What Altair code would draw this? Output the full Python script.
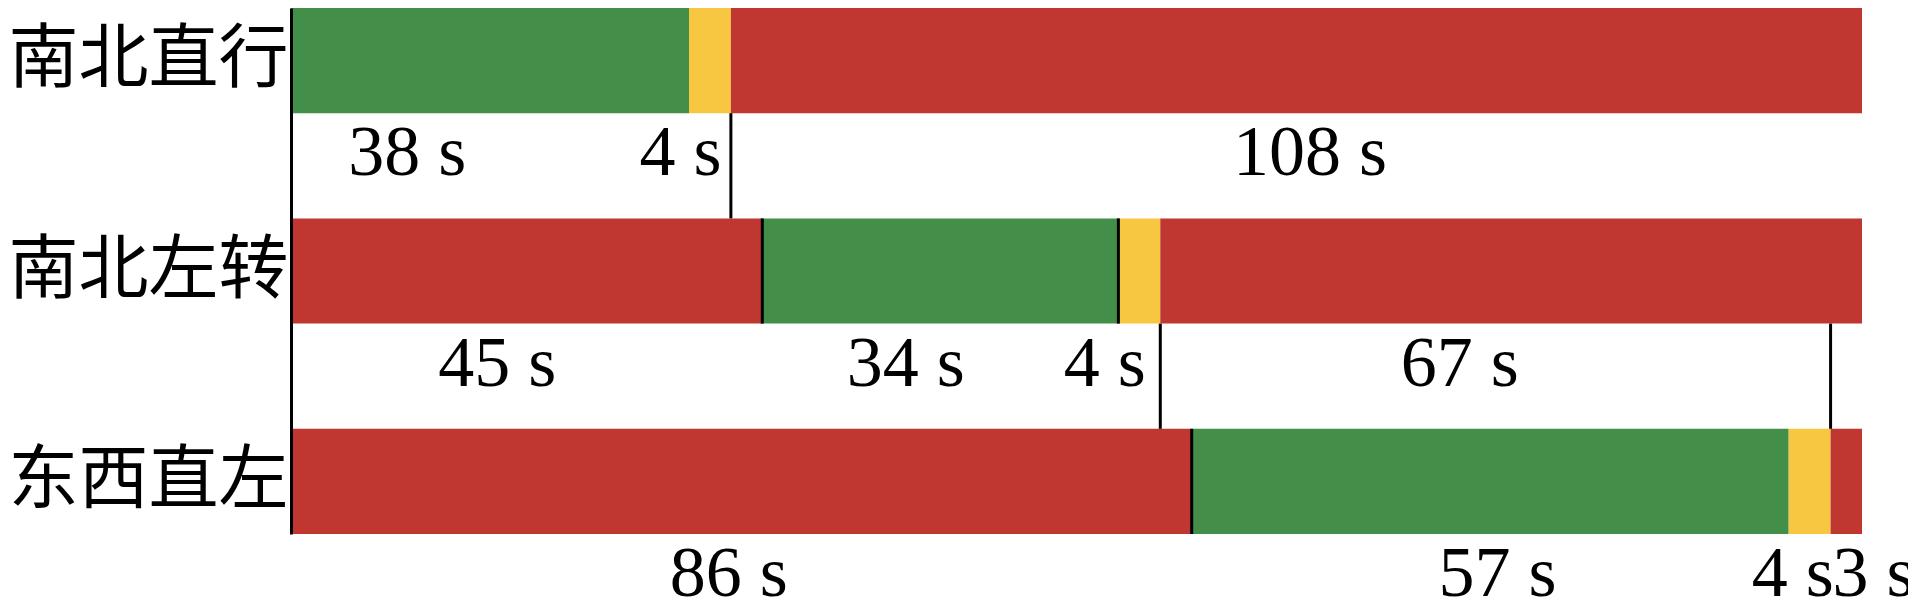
import altair as alt
import pandas as pd

# ---- data (cycle = 150 s) ----
rows = ["南北直行", "南北左转", "东西直左"]

phases_row1 = ["green", "yellow", "red"]
durations_row1 = [38, 4, 108]
phases_row2 = ["red", "green", "yellow", "red"]
durations_row2 = [45, 34, 4, 67]
phases_row3 = ["red", "green", "yellow", "red"]
durations_row3 = [86, 57, 4, 3]

labels_row1 = ["38 s", "4 s", "108 s"]
label_at_row1 = [11.1, 37.2, 97.3]
labels_row2 = ["45 s", "34 s", "4 s", "67 s"]
label_at_row2 = [19.7, 58.7, 77.7, 111.6]
labels_row3 = ["86 s", "57 s", "4 s", "3 s"]
label_at_row3 = [41.8, 115.2, 143.4, 151.1]

# divider lines: time (s), row index, and whether inside the bar or below it
divider_t = [42, 45, 79, 83, 147, 86]
divider_row = [0, 1, 1, 1, 1, 2]
divider_where = ["below", "in", "in", "below", "below", "in"]

phase_names = ["green", "yellow", "red"]
phase_colors = ["#438E48", "#F7C742", "#C03630"]

# ---- build tables ----
seg_records = []
for k, (ph, du) in enumerate([(phases_row1, durations_row1),
                              (phases_row2, durations_row2),
                              (phases_row3, durations_row3)]):
    start = 0
    for p, d in zip(ph, du):
        seg_records.append({"row": rows[k], "phase": p, "start": start,
                            "end": start + d, "lane": 2 * k, "lane2": 2 * k + 1})
        start += d
segs = pd.DataFrame(seg_records)

lab_records = []
for k, (tx, at) in enumerate([(labels_row1, label_at_row1),
                              (labels_row2, label_at_row2),
                              (labels_row3, label_at_row3)]):
    for t, a in zip(tx, at):
        lab_records.append({"text": t, "t": a, "lane": 2 * k + 1.38})
labs = pd.DataFrame(lab_records)

div_records = []
for t, r, w in zip(divider_t, divider_row, divider_where):
    lo = 2 * r if w == "in" else 2 * r + 1
    div_records.append({"t": t, "lane": lo, "lane2": lo + 1})
divs = pd.DataFrame(div_records)

label_expr = " : ".join(
    f"datum.value == {2 * k + 0.5} ? '{name}'" for k, name in enumerate(rows)
) + " : ''"

x_scale = alt.Scale(domain=[0, 150], nice=False, zero=False)
y_scale = alt.Scale(domain=[0, 5], reverse=True, nice=False, zero=False)

bars = alt.Chart(segs).mark_rect().encode(
    x=alt.X("start:Q", scale=x_scale, axis=None),
    x2="end:Q",
    y=alt.Y("lane:Q", scale=y_scale,
            axis=alt.Axis(values=[0.5, 2.5, 4.5], labelExpr=label_expr,
                          labelFont="Noto Sans CJK SC", labelFontSize=70,
                          labelColor="black", labelPadding=3, labelLimit=0,
                          ticks=False, grid=False, domainColor="black",
                          domainWidth=3, zindex=1, title=None,
                          labelBaseline="middle")),
    y2="lane2:Q",
    color=alt.Color("phase:N", scale=alt.Scale(domain=phase_names, range=phase_colors),
                    legend=None),
)

rules = alt.Chart(divs).mark_rule(color="black", strokeWidth=3).encode(
    x=alt.X("t:Q", scale=x_scale),
    y=alt.Y("lane:Q", scale=y_scale),
    y2="lane2:Q",
)

texts = alt.Chart(labs).mark_text(
    font="Liberation Serif", fontSize=72, color="black",
    align="center", baseline="middle",
).encode(
    x=alt.X("t:Q", scale=x_scale),
    y=alt.Y("lane:Q", scale=y_scale),
    text="text:N",
)

chart = alt.layer(bars, rules, texts).properties(
    width=1571, height=526,
    autosize=alt.AutoSizeParams(type="none"),
    padding={"left": 283, "top": 0, "right": 46, "bottom": 65},
    background="white",
).configure_view(stroke=None)

chart.save("out.html", embed_options={"renderer": "svg", "actions": False})
